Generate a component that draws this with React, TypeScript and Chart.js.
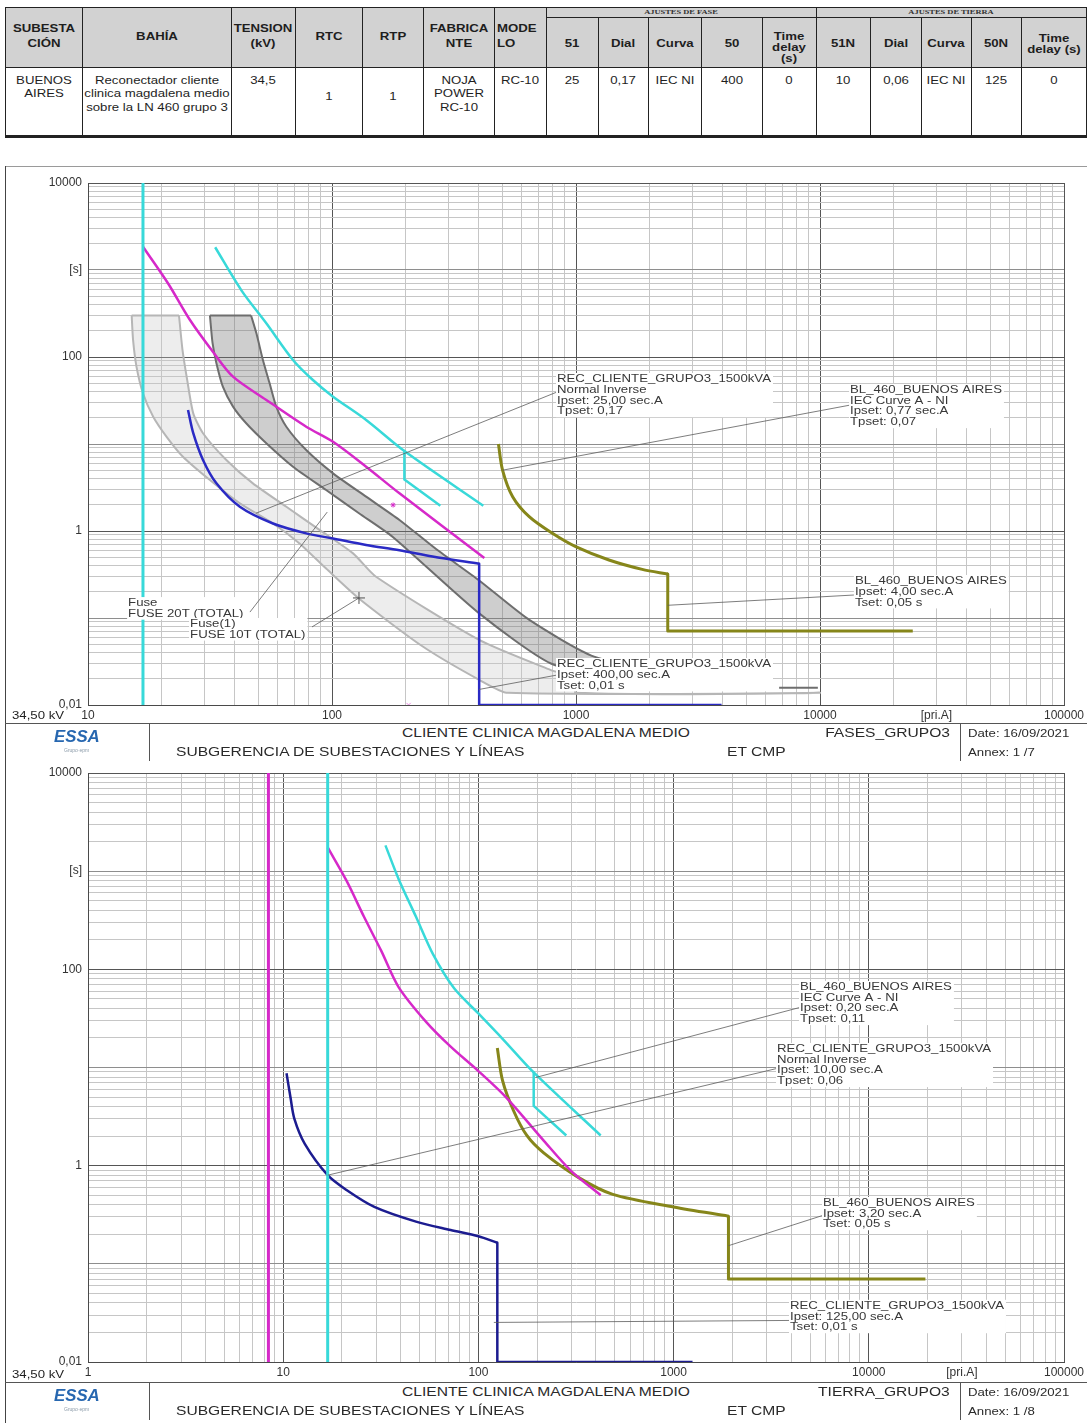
import React, { useEffect, useRef } from 'react';
import { Chart, registerables } from 'chart.js';

Chart.register(...registerables);

const FONT = '"Liberation Sans", Arial, Helvetica, sans-serif';
const SERIF = '"Liberation Serif", "Times New Roman", serif';
const SX = 1.2; // horizontal stretch of the source document's lettering

// ---------------- table content ----------------
const tableGroupTitles = ['AJUSTES DE FASE', 'AJUSTES DE TIERRA'];
const tableHeadLeft = ['SUBESTA\nCIÓN', 'BAHÍA', 'TENSION\n(kV)', 'RTC', 'RTP', 'FABRICA\nNTE', 'MODE\nLO'];
const tableHeadPhase = ['51', 'Dial', 'Curva', '50', 'Time\ndelay\n(s)'];
const tableHeadGround = ['51N', 'Dial', 'Curva', '50N', 'Time\ndelay (s)'];
const tableRow = [
  'BUENOS\nAIRES',
  'Reconectador cliente\nclinica magdalena medio\nsobre la LN 460 grupo 3',
  '34,5', '1', '1', 'NOJA\nPOWER\nRC-10', 'RC-10',
  '25', '0,17', 'IEC NI', '400', '0',
  '10', '0,06', 'IEC NI', '125', '0',
];

// ---------------- footer content ----------------
const footerProject = 'CLIENTE CLINICA MAGDALENA MEDIO';
const footerDept = 'SUBGERENCIA DE SUBESTACIONES Y LÍNEAS';
const footerSite = 'ET CMP';
const footerDate = 'Date: 16/09/2021';
const footerSheets = ['FASES_GRUPO3', 'TIERRA_GRUPO3'];
const footerAnnex = ['Annex: 1 /7', 'Annex: 1 /8'];
const voltageLabel = '34,50 kV';

// ---------------- axes ----------------
const phaseXRange = [10, 100000];
const groundXRange = [1, 100000];
const timeRange = [0.01, 10000];
const minorSteps = [1, 2, 3, 4, 5, 6, 7, 8, 9];
const phaseXLabelValues = [10, 100, 1000, 10000, 30000, 100000];
const phaseXLabels = ['10', '100', '1000', '10000', '[pri.A]', '100000'];
const groundXLabelValues = [1, 10, 100, 1000, 10000, 30000, 100000];
const groundXLabels = ['1', '10', '100', '1000', '10000', '[pri.A]', '100000'];
const timeLabelValues = [10000, 1000, 100, 1, 0.01];
const timeLabels = ['10000', '[s]', '100', '1', '0,01'];

// ---------------- phase chart series [A, s] ----------------
const phCyanVertical = [[16.8, 0.01], [16.8, 10000]];
const phMagenta = [[16.8, 1850], [21.3, 700], [26.1, 270], [32.5, 115], [39.3, 59.4], [53.8, 32.1], [78.4, 15.8], [101, 10.6], [138, 5.48], [189, 2.71], [421, 0.49]];
const phCyan = [[33.2, 1825], [42.6, 580], [53.8, 244], [69.2, 92.5], [83.5, 54.4], [101, 35], [138, 18.9], [198, 8.3], [417, 1.95]];
const phCyanBranch = [[198, 8.3], [198, 3.9], [278, 1.95]];
const phBlueCurve = [[25.7, 24.6], [27, 13.3], [29.6, 6.55], [33.6, 3.53], [41.9, 1.9], [57.3, 1.22], [78.4, 0.94], [101, 0.82], [138, 0.69], [189, 0.6], [258, 0.51], [401, 0.42]];
const phBlueStep = [[401, 0.42], [401, 0.01], [3950, 0.01]];
const phOliveCurve = [[481, 10], [500, 5.02], [550, 2.48], [643, 1.46], [800, 0.94], [997, 0.66], [1365, 0.464], [1868, 0.362], [2377, 0.32]];
const phOliveStep = [[2377, 0.32], [2377, 0.071], [24000, 0.071]];
const fuse10MinMelt = [[15.1, 300], [15.3, 157], [15.8, 77.5], [16.8, 38.3], [18.5, 20.6], [21, 12.1], [24.5, 7.14], [31.6, 3.85], [41.9, 2.08], [57.3, 1.22], [73.6, 0.72], [94.6, 0.37], [130, 0.164], [233, 0.048], [401, 0.0195], [526, 0.0138], [10000, 0.0138]];
const fuse10TotalClear = [[23.6, 300], [24.4, 120], [25.5, 54.4], [27, 22.5], [29.6, 13.3], [36.9, 6.55], [47.4, 3.53], [65, 1.9], [88.9, 1.03], [122, 0.553], [151, 0.3], [401, 0.056], [789, 0.0252], [1000, 0.02]];
const fuse20MinMelt = [[31.6, 300], [32.4, 144], [33.6, 84.7], [35.7, 45.6], [39.3, 26.9], [44.5, 17.3], [53.8, 10.2], [69.2, 5.48], [94.6, 2.96], [129, 1.6], [177, 0.86], [401, 0.113], [789, 0.03], [1500, 0.021], [2800, 0.018]];
const fuse20TotalClear = [[46.6, 300], [49, 187], [52.1, 92.5], [55.5, 49.9], [59.1, 26.9], [65, 15.8], [78.4, 8.53], [101, 4.6], [138, 2.48], [189, 1.34], [267, 0.62], [401, 0.27], [644, 0.095], [1186, 0.036], [2800, 0.021]];
const fuse20Tail = [[6800, 0.0158], [9800, 0.0158]];
const phFuseMarker = [[129, 0.17]];
const phMagentaDot = [[178, 1.99]];
const phAxisMark = [[206, 0.01]];

// ---------------- ground chart series [A, s] ----------------
const grMagentaVertical = [[8.4, 0.01], [8.4, 10000]];
const grCyanVertical = [[16.9, 0.01], [16.9, 10000]];
const grMagenta = [[16.9, 1746], [21.1, 800], [25.9, 345], [31.8, 154], [39, 66], [54.1, 29], [72.1, 16.3], [100, 9.2], [139, 4.94], [216, 1.8], [299, 0.88], [423, 0.5]];
const grCyan = [[33.4, 1832], [39, 834], [47.9, 343], [58.7, 141], [75.1, 64], [100, 35.5], [133, 19.6], [192, 8.9], [423, 2.03]];
const grCyanBranch = [[192, 8.9], [192, 4.06], [282, 2.03]];
const grBlueCurve = [[10.4, 8.75], [10.9, 4.94], [11.4, 3.02], [12.9, 1.67], [16.9, 0.8], [21.1, 0.565], [29.3, 0.38], [47.9, 0.269], [72.1, 0.221], [100, 0.191], [125, 0.164]];
const grBlueStep = [[125, 0.164], [125, 0.01], [1250, 0.01]];
const grOliveCurve = [[125, 15.8], [133, 7.33], [151, 3.67], [177, 2.03], [216, 1.35], [325, 0.76], [488, 0.51], [1000, 0.38], [1910, 0.306]];
const grOliveStep = [[1910, 0.306], [1910, 0.07], [19500, 0.07]];

// ---------------- callout labels (anchors in data units) ----------------
const phaseNotes = [
  { lines: ['REC_CLIENTE_GRUPO3_1500kVA', 'Normal Inverse', 'Ipset: 25,00 sec.A', 'Tpset: 0,17'], at: [836, 65.5], from: [836, 39.6], to: [48.8, 1.6] },
  { lines: ['BL_460_BUENOS AIRES', 'IEC Curve A - NI', 'Ipset: 0,77 sec.A', 'Tpset: 0,07'], at: [13280, 49], from: [13280, 28], to: [500, 5.0] },
  { lines: ['BL_460_BUENOS AIRES', 'Ipset: 4,00 sec.A', 'Tset: 0,05 s'], at: [13900, 0.312], from: [13900, 0.184], to: [2377, 0.14] },
  { lines: ['REC_CLIENTE_GRUPO3_1500kVA', 'Ipset: 400,00 sec.A', 'Tset: 0,01 s'], at: [836, 0.0347], from: [836, 0.0221], to: [401, 0.0151] },
  { lines: ['Fuse', 'FUSE 20T (TOTAL)'], at: [14.6, 0.174], from: [46.1, 0.117], to: [95.6, 1.65] },
  { lines: ['Fuse(1)', 'FUSE 10T (TOTAL)'], at: [26.2, 0.1], from: [82.8, 0.0789], to: [129, 0.17] },
];
const groundNotes = [
  { lines: ['BL_460_BUENOS AIRES', 'IEC Curve A - NI', 'Ipset: 0,20 sec.A', 'Tpset: 0,11'], at: [4444, 76.2], from: [4498, 41.2], to: [196, 7.9] },
  { lines: ['REC_CLIENTE_GRUPO3_1500kVA', 'Normal Inverse', 'Ipset: 10,00 sec.A', 'Tpset: 0,06'], at: [3388, 17.8], from: [3451, 9.87], to: [16.9, 0.8] },
  { lines: ['BL_460_BUENOS AIRES', 'Ipset: 3,20 sec.A', 'Tset: 0,05 s'], at: [5826, 0.481], from: [5864, 0.313], to: [1910, 0.153] },
  { lines: ['REC_CLIENTE_GRUPO3_1500kVA', 'Ipset: 125,00 sec.A', 'Tset: 0,01 s'], at: [3947, 0.043], from: [3980, 0.0265], to: [120, 0.0253] },
];

const CYAN = '#38d9d9';
const MAGENTA = '#d629c9';
const BLUE_PH = '#2a2ac4';
const BLUE_GR = '#1c1c90';
const OLIVE = '#86861a';
const FUSE10_LINE = '#b6b6b6';
const FUSE20_LINE = '#6e6e6e';

// ---------------- helpers ----------------
const pts = (a: number[][]) => a.map(([x, y]) => ({ x, y }));

function logTicks(min: number, max: number) {
  const out: number[] = [];
  const e0 = Math.round(Math.log10(min));
  const e1 = Math.round(Math.log10(max));
  for (let e = e0; e < e1; e++) for (const m of minorSteps) out.push(Number((m * Math.pow(10, e)).toPrecision(6)));
  out.push(max);
  return out;
}
const isDecade = (v: number) => Math.abs(Math.log10(v) - Math.round(Math.log10(v))) < 1e-6;
const labelFor = (v: number, vals: number[], labels: string[]) => {
  const i = vals.findIndex((t) => Math.abs(t - v) <= t * 1e-6);
  return i >= 0 ? labels[i] : '';
};

function line(data: number[][], color: string, width: number, extra: any = {}) {
  return {
    data: pts(data), showLine: true, borderColor: color, backgroundColor: color, borderWidth: width,
    pointRadius: 0, pointHoverRadius: 0, tension: 0, fill: false, borderJoinStyle: 'round', ...extra,
  };
}
function marker(data: number[][], color: string, style: string, radius: number) {
  return {
    data: pts(data), showLine: false, borderColor: color, backgroundColor: color, pointStyle: style,
    pointRadius: radius, pointBorderWidth: 1, pointHoverRadius: radius,
  };
}

function notesPlugin(notes: any[]) {
  const LH = 10.8;
  return {
    id: 'notes',
    afterDatasetsDraw(chart: any) {
      const { ctx } = chart;
      const xs = chart.scales.x;
      const ys = chart.scales.y;
      const px = (v: number) => xs.getPixelForValue(v);
      const py = (v: number) => ys.getPixelForValue(v);
      ctx.save();
      ctx.strokeStyle = '#5c5c5c';
      ctx.lineWidth = 0.8;
      notes.forEach((n) => {
        ctx.beginPath();
        ctx.moveTo(px(n.from[0]), py(n.from[1]));
        ctx.lineTo(px(n.to[0]), py(n.to[1]));
        ctx.stroke();
      });
      ctx.font = `11px ${FONT}`;
      ctx.textBaseline = 'middle';
      notes.forEach((n) => {
        const x0 = px(n.at[0]);
        const y0 = py(n.at[1]);
        const maxW = Math.max(...n.lines.map((l: string) => ctx.measureText(l).width)) * SX;
        ctx.fillStyle = '#ffffff';
        ctx.fillRect(x0 - 1, y0, maxW + 3, n.lines.length * LH + 1);
        n.lines.forEach((l: string, i: number) => {
          ctx.save();
          ctx.translate(x0, y0 + i * LH + LH / 2 + 0.5);
          ctx.scale(SX, 1);
          ctx.fillStyle = '#383838';
          ctx.fillText(l, 0, 0);
          ctx.restore();
        });
      });
      ctx.restore();
    },
  };
}

function phaseDatasets() {
  // band outline runs down the total-clearing side and back up the minimum-melt side;
  // the fill closes the flat top, which is stroked separately
  const fuse10Shape = [...fuse10TotalClear, [1000, 0.0138], ...fuse10MinMelt.slice().reverse()];
  const fuse20Shape = [...fuse20TotalClear, ...fuse20MinMelt.slice().reverse()];
  const fuse10Top = [fuse10MinMelt[0], fuse10TotalClear[0]];
  const fuse20Top = [fuse20MinMelt[0], fuse20TotalClear[0]];
  return [
    marker(phFuseMarker, '#505050', 'cross', 6),
    marker(phMagentaDot, MAGENTA, 'star', 2.5),
    marker(phAxisMark, '#e88ae0', 'crossRot', 3),
    line(phCyanVertical, CYAN, 3),
    line(phBlueCurve, BLUE_PH, 2.5, { tension: 0.3 }),
    line(phBlueStep, BLUE_PH, 2.5),
    line(phMagenta, MAGENTA, 2.5, { tension: 0.3 }),
    line(phCyan, CYAN, 2.5, { tension: 0.3 }),
    line(phCyanBranch, CYAN, 2.5),
    line(phOliveCurve, OLIVE, 3, { tension: 0.3 }),
    line(phOliveStep, OLIVE, 3),
    line(fuse20Tail, FUSE20_LINE, 2),
    line(fuse20Top, FUSE20_LINE, 2),
    line(fuse20Shape, FUSE20_LINE, 2, { fill: 'shape', tension: 0.22, backgroundColor: 'rgba(120,120,120,0.36)' }),
    line(fuse10Top, FUSE10_LINE, 2),
    line(fuse10Shape, FUSE10_LINE, 2, { fill: 'shape', tension: 0.22, backgroundColor: 'rgba(200,200,200,0.32)' }),
  ];
}

function groundDatasets() {
  return [
    line(grMagentaVertical, MAGENTA, 3),
    line(grCyanVertical, CYAN, 3),
    line(grBlueCurve, BLUE_GR, 2.5, { tension: 0.3 }),
    line(grBlueStep, BLUE_GR, 2.5),
    line(grMagenta, MAGENTA, 2.5, { tension: 0.3 }),
    line(grCyan, CYAN, 2.5, { tension: 0.3 }),
    line(grCyanBranch, CYAN, 2.5),
    line(grOliveCurve, OLIVE, 3, { tension: 0.3 }),
    line(grOliveStep, OLIVE, 3),
  ];
}

function TccChart({ top, height, xRange, xLabelValues, xLabels, makeDatasets, notes }: any) {
  const ref = useRef<HTMLCanvasElement | null>(null);
  useEffect(() => {
    const canvas = ref.current;
    if (!canvas) return;
    const [xMin, xMax] = xRange;
    const [yMin, yMax] = timeRange;
    const xTicks = logTicks(xMin, xMax);
    const yTicks = logTicks(yMin, yMax);
    const chart = new Chart(canvas, {
      type: 'scatter',
      data: { datasets: makeDatasets() },
      options: {
        animation: false,
        responsive: false,
        devicePixelRatio: 1,
        events: [],
        layout: { padding: { top: 13, right: 23, bottom: 0, left: 0 } },
        plugins: { legend: { display: false }, tooltip: { enabled: false } },
        scales: {
          x: {
            type: 'logarithmic', min: xMin, max: xMax, bounds: 'data',
            afterBuildTicks: (s: any) => { s.ticks = xTicks.map((v) => ({ value: v })); },
            afterFit: (s: any) => { s.height = 20; s.paddingLeft = 0; s.paddingRight = 0; },
            ticks: {
              autoSkip: false, maxRotation: 0, minRotation: 0, padding: 3, color: '#333',
              font: { size: 12, family: FONT },
              callback: (v: any) => labelFor(Number(v), xLabelValues, xLabels),
            },
            grid: {
              drawTicks: false, lineWidth: 1,
              color: (c: any) => (c.tick && isDecade(c.tick.value) ? '#555555' : '#c6c6c6'),
            },
            border: { display: true, color: '#4a4a4a', width: 1 },
          },
          y: {
            type: 'logarithmic', min: yMin, max: yMax, bounds: 'data',
            afterBuildTicks: (s: any) => { s.ticks = yTicks.map((v) => ({ value: v })); },
            afterFit: (s: any) => { s.width = 88; s.paddingTop = 0; s.paddingBottom = 0; },
            ticks: {
              autoSkip: false, padding: 6, color: '#333',
              font: { size: 12, family: FONT },
              callback: (v: any) => labelFor(Number(v), timeLabelValues, timeLabels),
            },
            grid: {
              drawTicks: false, lineWidth: 1,
              color: (c: any) => {
                if (!c.tick) return '#555555';
                const v = c.tick.value;
                if (!isDecade(v)) return '#c6c6c6';
                return Math.round(Math.log10(v)) % 2 === 0 ? '#555555' : '#8e8e8e';
              },
            },
            border: { display: true, color: '#4a4a4a', width: 1 },
          },
        },
      },
      plugins: [notesPlugin(notes)],
    } as any);
    return () => chart.destroy();
  }, []);
  return (
    <canvas
      ref={ref}
      width={1087}
      height={height}
      style={{ position: 'absolute', left: 0, top, width: 1087, height, display: 'block' }}
    />
  );
}

// ---------------- HTML pieces ----------------
function HLine({ x1, x2, y, color = '#222', w = 1 }: any) {
  return <div style={{ position: 'absolute', left: x1, top: Math.round(y - w / 2), width: x2 - x1, height: w, background: color }} />;
}
function VLine({ x, y1, y2, color = '#222', w = 1 }: any) {
  return <div style={{ position: 'absolute', left: Math.round(x - w / 2), top: y1, width: w, height: y2 - y1, background: color }} />;
}
function Txt({ x, y, text, size = 11, bold = false, italic = false, align = 'left', color = '#1e1e1e', family = FONT, sx = SX }: any) {
  const lh = Math.round(size * 1.2);
  const style: any = {
    position: 'absolute', top: y - lh / 2, whiteSpace: 'pre', fontSize: size, lineHeight: `${lh}px`,
    fontFamily: family, fontWeight: bold ? 'bold' : 'normal', fontStyle: italic ? 'italic' : 'normal',
    color, transform: `scaleX(${sx})`,
  };
  if (align === 'left') { style.left = x; style.transformOrigin = 'left center'; }
  else if (align === 'right') { style.right = 1087 - x; style.transformOrigin = 'right center'; }
  else { style.left = x - 200; style.width = 400; style.textAlign = 'center'; style.transformOrigin = 'center center'; }
  return <div style={style}>{text}</div>;
}
function Lines({ x, y, text, lh, ...rest }: any) {
  const ls = String(text).split('\n');
  return <>{ls.map((l, i) => <Txt key={i} x={x} y={y + i * lh} text={l} {...rest} />)}</>;
}

const colEdges = [5, 82, 231, 295, 362, 423, 494, 546, 598, 648, 701, 762, 816, 870, 921, 971, 1021, 1086];

function Table() {
  const E = colEdges;
  const mid = (i: number) => (E[i] + E[i + 1]) / 2;
  const top = 7, rowA = 17, rowH = 67, bottom = 136;
  const innerGroupEdges = [8, 9, 10, 11, 13, 14, 15, 16];
  const head = [...tableHeadLeft, ...tableHeadPhase, ...tableHeadGround];
  const items: any[] = [];
  head.forEach((h, i) => {
    const n = h.split('\n').length;
    if (i < 7) {
      const lh = 15;
      const y0 = 36 - ((n - 1) * lh) / 2;
      if (i === 6) items.push(<Lines key={'h' + i} x={E[i] + 3} y={y0} lh={lh} text={h} bold size={11} />);
      else items.push(<Lines key={'h' + i} x={mid(i)} y={y0} lh={lh} text={h} bold size={11} align="center" />);
    } else {
      const lh = 11;
      const y0 = n === 3 ? 36 : n === 2 ? 38 : 43;
      items.push(<Lines key={'h' + i} x={mid(i)} y={y0} lh={lh} text={h} bold size={11} align="center" />);
    }
  });
  tableRow.forEach((t, i) => {
    const y0 = i === 3 || i === 4 ? 96 : 80;
    items.push(<Lines key={'d' + i} x={mid(i)} y={y0} lh={13.5} text={t} size={11} align="center" />);
  });
  return (
    <>
      <div style={{ position: 'absolute', left: 5, top, width: 1081, height: rowH - top, background: '#d2d2d2' }} />
      {items}
      <Txt x={(E[7] + E[12]) / 2} y={12} text={tableGroupTitles[0]} size={7} bold family={SERIF} align="center" color="#333" />
      <Txt x={(E[12] + E[17]) / 2} y={12} text={tableGroupTitles[1]} size={7} bold family={SERIF} align="center" color="#333" />
      <HLine x1={5} x2={1087} y={top} />
      <HLine x1={E[7]} x2={1087} y={rowA} />
      <HLine x1={5} x2={1087} y={rowH} />
      <HLine x1={5} x2={1087} y={bottom} w={3} />
      {E.map((x, i) => (
        <VLine key={'v' + i} x={x} y1={innerGroupEdges.includes(i) ? rowA : top} y2={bottom} />
      ))}
    </>
  );
}

function Footer({ top, idx }: any) {
  return (
    <>
      <HLine x1={5} x2={1087} y={top} color="#555" />
      <VLine x={149} y1={top} y2={top + 38} color="#555" />
      <VLine x={960} y1={top} y2={top + 38} color="#555" />
      <Txt x={54} y={top + 13} text="ESSA" size={16} bold italic color="#2767b0" sx={1.05} />
      <Txt x={64} y={top + 27} text="Grupo·epm" size={5} color="#8a9aa8" sx={1} />
      <Txt x={546} y={top + 10} text={footerProject} size={13} align="center" color="#2a2a2a" />
      <Txt x={950} y={top + 10} text={footerSheets[idx]} size={13} align="right" color="#2a2a2a" />
      <Txt x={176} y={top + 29} text={footerDept} size={13} color="#2a2a2a" />
      <Txt x={727} y={top + 29} text={footerSite} size={13} color="#2a2a2a" />
      <Txt x={968} y={top + 10} text={footerDate} size={11} color="#2a2a2a" />
      <Txt x={968} y={top + 29} text={footerAnnex[idx]} size={11} color="#2a2a2a" />
    </>
  );
}

export default function App() {
  return (
    <div
      style={{
        position: 'absolute', left: 0, top: 0, width: 1087, height: 1423, background: '#ffffff',
        overflow: 'hidden', fontFamily: FONT, color: '#222',
      }}
    >
      <Table />
      <HLine x1={5} x2={1087} y={166} color="#9a9a9a" />
      <VLine x={5} y1={166} y2={1423} color="#444" />
      <TccChart
        top={170} height={555} xRange={phaseXRange} xLabelValues={phaseXLabelValues} xLabels={phaseXLabels}
        makeDatasets={phaseDatasets} notes={phaseNotes}
      />
      <Footer top={723} idx={0} />
      <TccChart
        top={760} height={622} xRange={groundXRange} xLabelValues={groundXLabelValues} xLabels={groundXLabels}
        makeDatasets={groundDatasets} notes={groundNotes}
      />
      <Footer top={1382} idx={1} />
      <Txt x={12} y={715} text={voltageLabel} size={11} />
      <Txt x={12} y={1374} text={voltageLabel} size={11} />
    </div>
  );
}
